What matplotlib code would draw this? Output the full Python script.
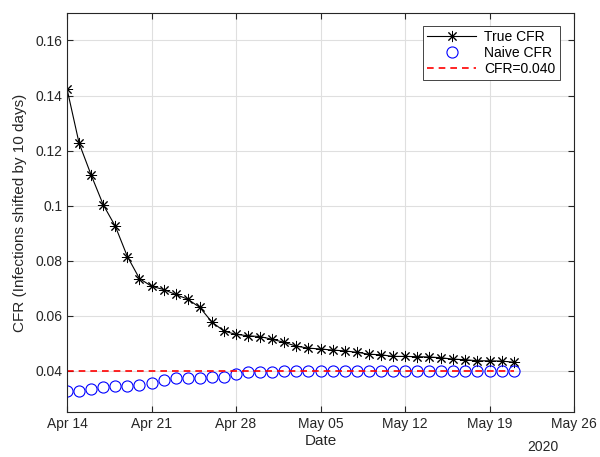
import numpy as np
import matplotlib
matplotlib.use("Agg")
import matplotlib.pyplot as plt
import matplotlib.dates as mdates

plt.rcParams['font.family'] = ['Liberation Sans', 'DejaVu Sans']
plt.rcParams['font.size'] = 10

# Daily CFR estimates, Apr 14 - May 21 2020
dates = np.arange(np.datetime64('2020-04-14'), np.datetime64('2020-05-22'))
true_cfr = [0.1424, 0.1227, 0.1111, 0.1003, 0.0925, 0.0815, 0.0735, 0.0707,
            0.0695, 0.0677, 0.0660, 0.0630, 0.0577, 0.0544, 0.0532, 0.0527,
            0.0524, 0.0514, 0.0503, 0.0489, 0.0482, 0.0479, 0.0475, 0.0472,
            0.0467, 0.0460, 0.0458, 0.0452, 0.0452, 0.0451, 0.0450, 0.0447,
            0.0442, 0.0440, 0.0436, 0.0436, 0.0435, 0.0431]
naive_cfr = [0.0325, 0.0325, 0.0334, 0.0342, 0.0343, 0.0343, 0.0348, 0.0356,
             0.0366, 0.0372, 0.0372, 0.0375, 0.0376, 0.0378, 0.0388, 0.0394,
             0.0396, 0.0396, 0.0399, 0.0399, 0.0400, 0.0400, 0.0400, 0.0400,
             0.0400, 0.0400, 0.0400, 0.0400, 0.0400, 0.0400, 0.0400, 0.0400,
             0.0400, 0.0400, 0.0400, 0.0400, 0.0400, 0.0400]
cfr_const = 0.040

xticks = np.arange(np.datetime64('2020-04-14'), np.datetime64('2020-05-27'), 7)
yticks = [0.04, 0.06, 0.08, 0.1, 0.12, 0.14, 0.16]
ytick_labels = ['0.04', '0.06', '0.08', '0.1', '0.12', '0.14', '0.16']

fig = plt.figure(figsize=(6, 4.57), dpi=100)
ax = fig.add_axes([0.1117, 0.0985, 0.845, 0.8731])

# asterisk marker: 8 spokes, like MATLAB '*'
ax.plot(dates, true_cfr, color='black', lw=0.8, marker=(8, 2, 0), ms=8,
        mew=0.7, label='True CFR')
ax.plot(dates, naive_cfr, ls='none', marker='o', ms=8, mfc='none',
        mec=(0, 0, 1), mew=0.8, label='Naive CFR')
ax.plot(dates, np.full(len(dates), cfr_const), color=(1, 0, 0), ls='--',
        lw=1.2, dashes=(4, 3), label='CFR=%.3f' % cfr_const)

ax.set_xlim(xticks[0], xticks[-1])
ax.set_ylim(0.025, 0.17)
ax.set_xticks(xticks)
ax.xaxis.set_major_formatter(mdates.DateFormatter('%b %d'))
ax.set_yticks(yticks)
ax.set_yticklabels(ytick_labels)

ax.grid(True, color='#dfdfdf', lw=0.8)
ax.set_axisbelow(True)
ax.tick_params(direction='in', top=True, right=True, length=4,
               labelsize=10, colors='#262626')
for s in ax.spines.values():
    s.set_color('#262626')
    s.set_linewidth(0.8)

ax.set_xlabel('Date', fontsize=11, color='#262626', labelpad=2)
ax.set_ylabel('CFR (Infections shifted by 10 days)', fontsize=11,
              color='#262626', labelpad=6)
# year label under the last ticks
ax.text(0.939, -0.07, '2020', transform=ax.transAxes, fontsize=10,
        color='#262626', ha='center', va='top')

leg = ax.legend(loc='upper right', bbox_to_anchor=(0.972, 0.967),
                borderaxespad=0, fancybox=False, framealpha=1,
                edgecolor='#262626', handlelength=3.5, handletextpad=0.6,
                fontsize=10, borderpad=0.3, labelspacing=0.12)
leg.get_frame().set_linewidth(0.6)

fig.savefig('out.png', dpi=100)
